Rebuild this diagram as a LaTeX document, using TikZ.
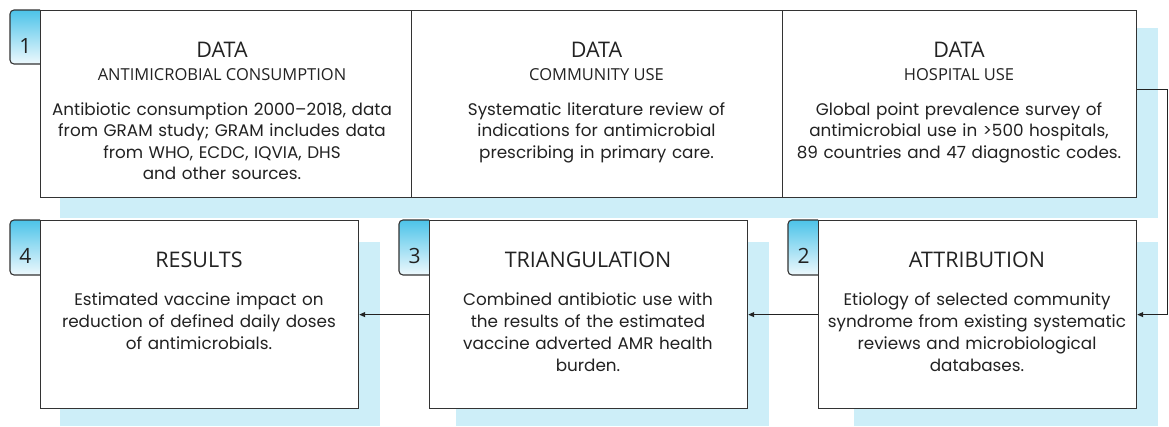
\documentclass[tikz,border=0pt]{standalone}
\usepackage{fontspec}
\setmainfont{Poppins}
\newfontfamily\headfont{Open Sans}
\usetikzlibrary{arrows.meta}
\definecolor{edge}{HTML}{333333}
\definecolor{shadecol}{HTML}{CDEEF8}
\definecolor{tabtop}{HTML}{4CC3E9}
\definecolor{tabbot}{HTML}{EEF9FD}
\definecolor{ink}{HTML}{222222}

\begin{document}
\begin{tikzpicture}[x=1pt,y=-1pt,
  backshade/.style={fill=shadecol},
  panel/.style={draw=edge, line width=1.2pt, fill=white, inner sep=0pt, anchor=north west},
  tabshape/.style={top color=tabtop, bottom color=tabbot, draw=edge, line width=1.1pt, rounded corners=4pt},
  tabnum/.style={font=\headfont\fontsize{21}{21}\selectfont, text=ink, inner sep=0pt, anchor=base},
  headline/.style={font=\headfont\fontsize{21.5}{21.5}\selectfont, text=ink, inner sep=0pt, anchor=base},
  subline/.style={font=\headfont\fontsize{16.5}{16.5}\selectfont, text=ink, inner sep=0pt, anchor=base},
  toptext/.style={font=\fontsize{16.8}{21.5}\selectfont, text=ink, inner sep=0pt, anchor=base, text width=420pt, align=center},
  bottext/.style={font=\fontsize{16.8}{22.3}\selectfont, text=ink, inner sep=0pt, anchor=base, text width=380pt, align=center},
  flow/.style={draw=ink, line width=1pt, -{Triangle[length=6pt,width=5pt]}}
]
\useasboundingbox (0,0) rectangle (1169,426);

% light blue back panels
\fill[backshade] (60,28) rectangle (1158,218);
\fill[backshade] (60,242) rectangle (380,426);
\fill[backshade] (456,242) rectangle (769,426);
\fill[backshade] (854,242) rectangle (1158,426);

% numbered tabs
\shade[tabshape] (40,10) -| (10,64) -- (40,64);
\shade[tabshape] (40,220) -| (10,275) -- (40,275);
\shade[tabshape] (429,220) -| (399,275) -- (429,275);
\shade[tabshape] (818,220) -| (788,275) -- (818,275);
\node[tabnum] (n1) at (25.5,53) {1};
\node[tabnum] (n4) at (25.5,263) {4};
\node[tabnum] (n3) at (414.5,263) {3};
\node[tabnum] (n2) at (803.5,263) {2};

% top row: three data panels
\node[panel, minimum width=371pt, minimum height=187pt] (c1) at (40,10) {};
\node[panel, minimum width=371pt, minimum height=187pt] (c2) at (411,10) {};
\node[panel, minimum width=354pt, minimum height=187pt] (c3) at (782,10) {};

% bottom row
\node[panel, minimum width=318pt, minimum height=188pt] (b4) at (40,220) {};
\node[panel, minimum width=318pt, minimum height=188pt] (b3) at (429,220) {};
\node[panel, minimum width=318pt, minimum height=188pt] (b2) at (818,220) {};

% texts, top row
\node[headline] (h1) at (222,57) {DATA};
\node[subline] (s1) at (222,80) {ANTIMICROBIAL CONSUMPTION};
\node[toptext] (t1) at (222,115) {Antibiotic consumption 2000--2018, data\\from GRAM study; GRAM includes data\\from WHO, ECDC, IQVIA, DHS\\and other sources.};

\node[headline] (h2) at (596.5,57) {DATA};
\node[subline] (s2) at (596.5,80) {COMMUNITY USE};
\node[toptext] (t2) at (596.5,115) {Systematic literature review of\\indications for antimicrobial\\prescribing in primary care.};

\node[headline] (h3) at (959,57) {DATA};
\node[subline] (s3) at (959,80) {HOSPITAL USE};
\node[toptext] (t3) at (959,115) {Global point prevalence survey of\\antimicrobial use in >500 hospitals,\\89 countries and 47 diagnostic codes.};

% texts, bottom row
\node[headline] (h4) at (199,267) {RESULTS};
\node[bottext] (t4) at (199,305) {Estimated vaccine impact on\\reduction of defined daily doses\\of antimicrobials.};

\node[headline] (h5) at (588,267) {TRIANGULATION};
\node[bottext] (t5) at (588,305) {Combined antibiotic use with\\the results of the estimated\\vaccine adverted AMR health\\burden.};

\node[headline] (h6) at (977,267) {ATTRIBUTION};
\node[bottext] (t6) at (977,305) {Etiology of selected community\\syndrome from existing systematic\\reviews and microbiological\\databases.};

% connectors
\coordinate (turn) at (1167.5,89);
\draw[flow] (c3.east |- turn) -- (turn) |- (b2.east);
\draw[flow] (b2.west) -- (b3.east);
\draw[flow] (b3.west) -- (b4.east);
\end{tikzpicture}
\end{document}
